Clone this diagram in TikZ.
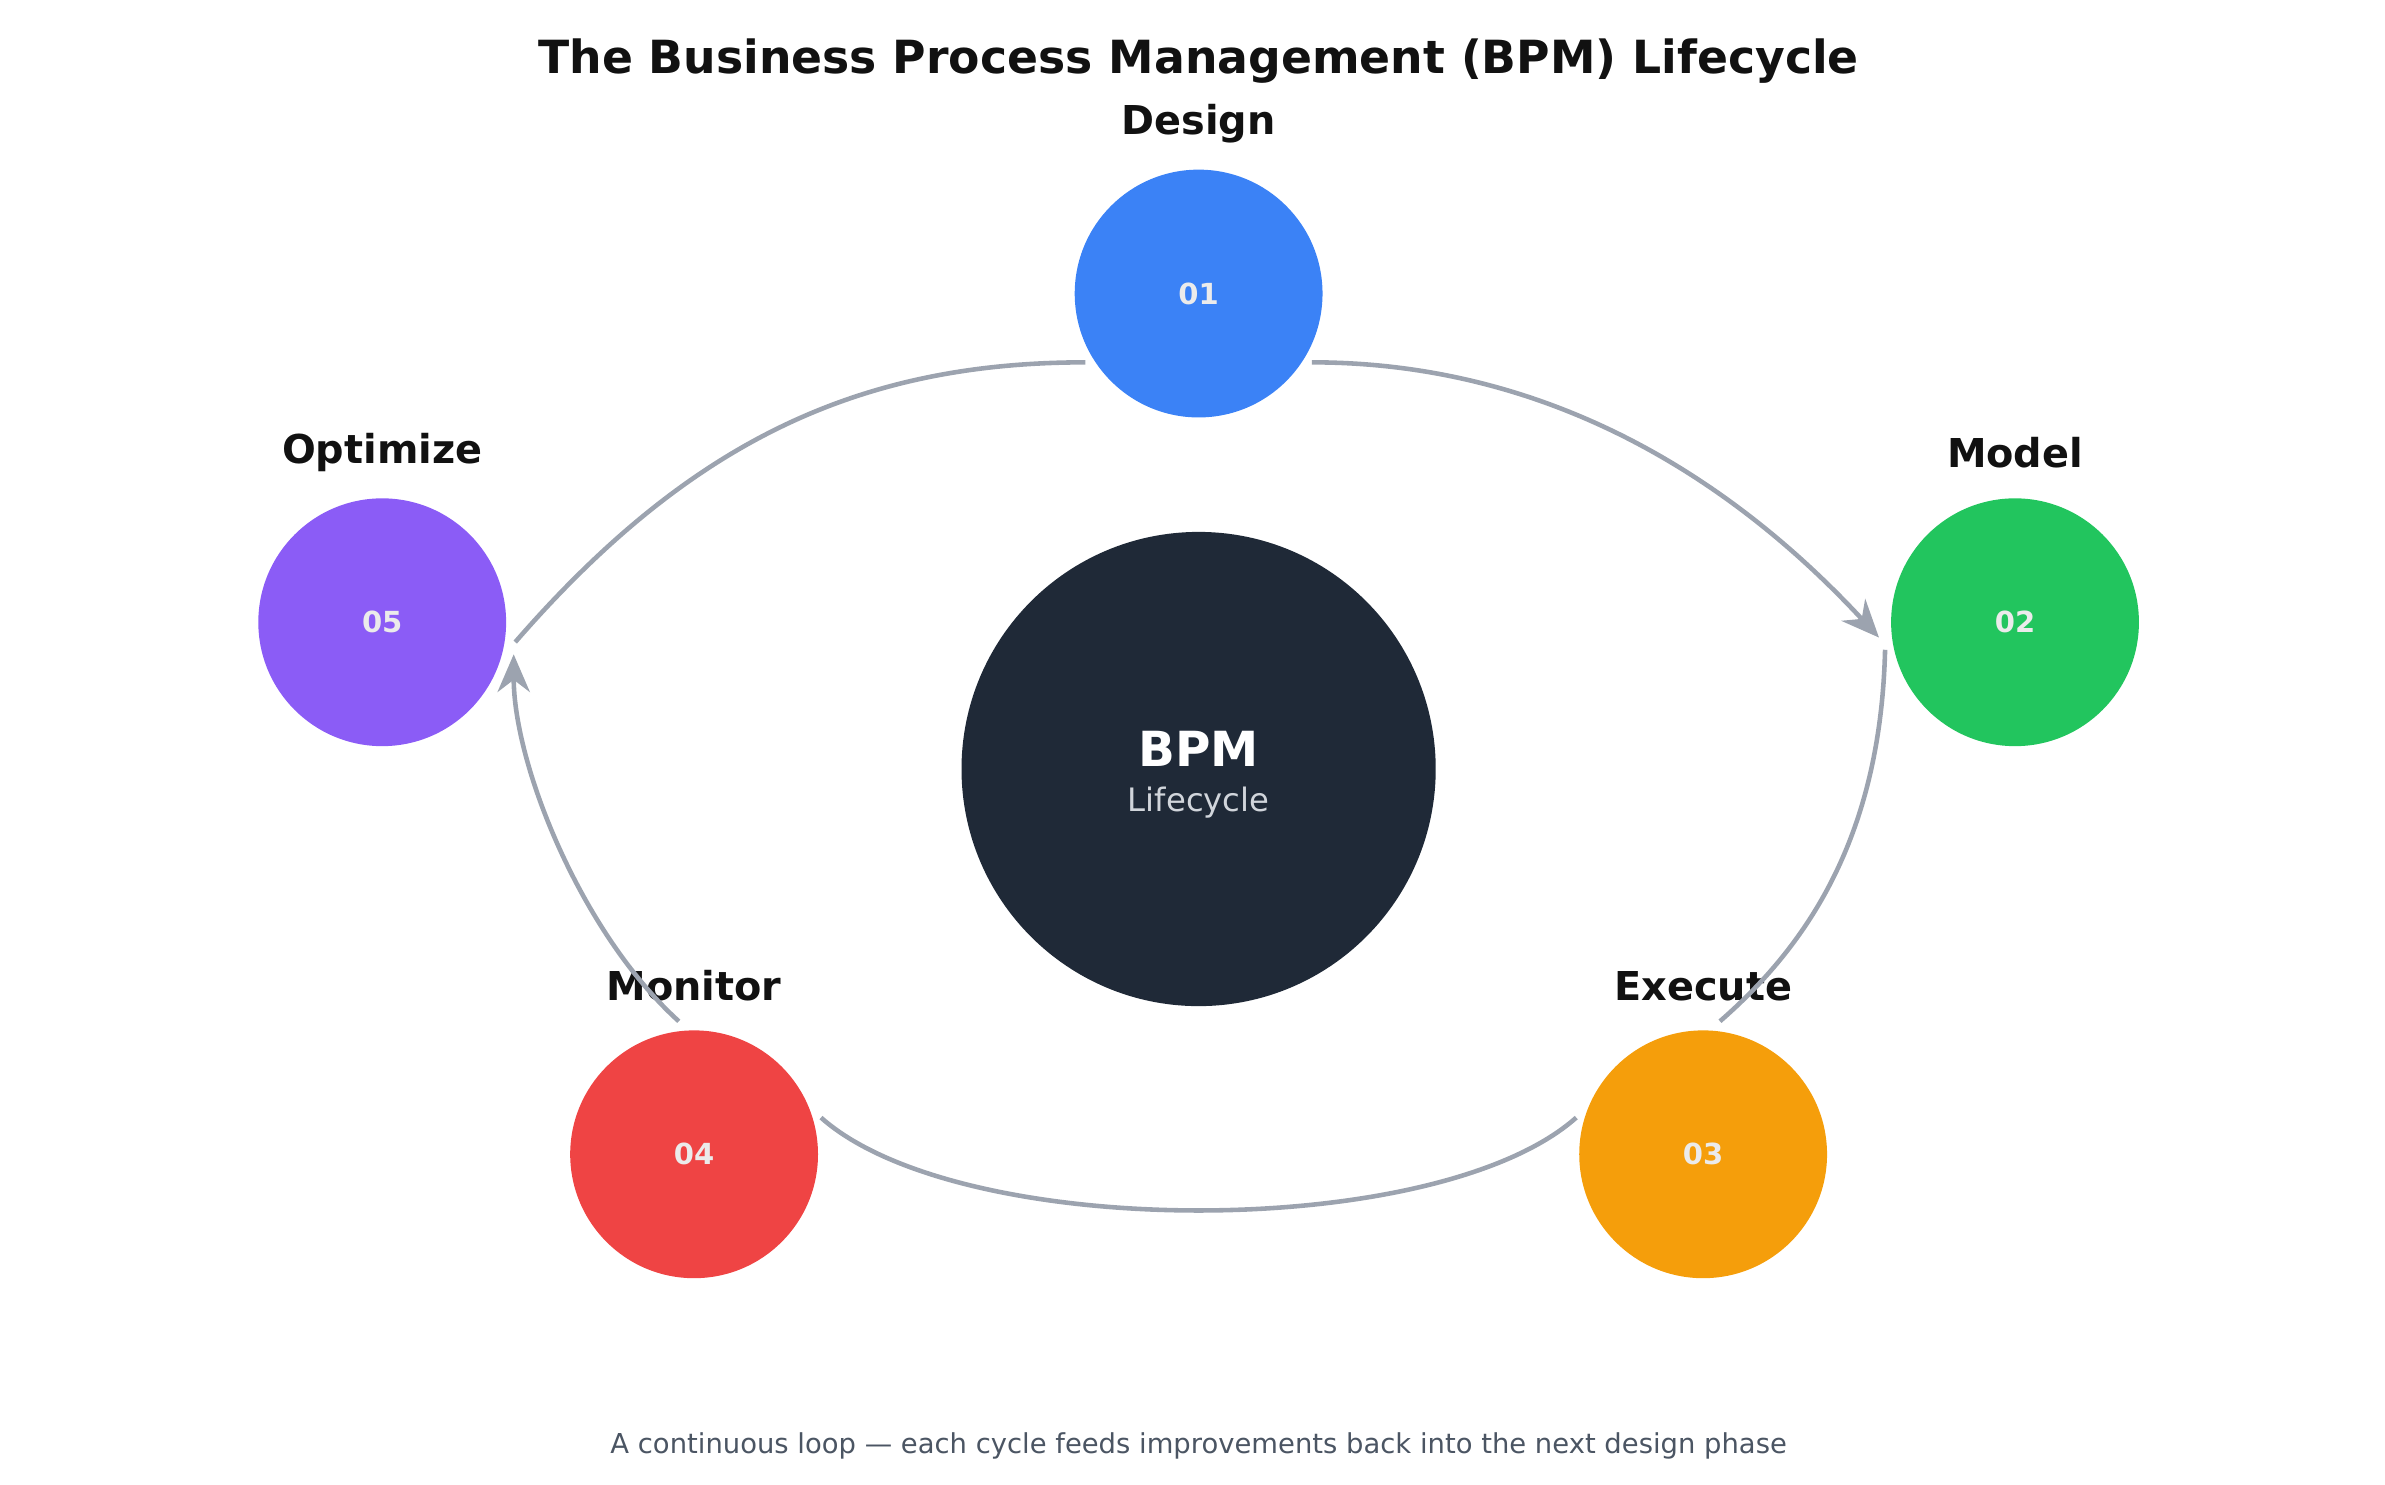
\documentclass[tikz,border=0pt]{standalone}
\usepackage{fontspec}
\setmainfont{DejaVu Sans}
\usetikzlibrary{arrows.meta, positioning}

\definecolor{cblue}{HTML}{3B82F6}
\definecolor{cgreen}{HTML}{22C55E}
\definecolor{corange}{HTML}{F59E0B}
\definecolor{cred}{HTML}{EF4444}
\definecolor{cpurple}{HTML}{8B5CF6}
\definecolor{cdark}{HTML}{1F2937}
\definecolor{carrow}{HTML}{9CA3AF}
\definecolor{cfoot}{HTML}{4B5563}
\definecolor{clight}{HTML}{D1D5DB}
\definecolor{ctext}{HTML}{111111}

\tikzset{
    phase/.style={circle, minimum size=1.62cm, inner sep=0pt, text=white!92!black, font=\fontsize{5.4}{6}\selectfont\bfseries},
    phaselabel/.style={text=ctext, font=\fontsize{7.4}{8}\selectfont\bfseries},
    loop/.style={draw=carrow, line width=0.85pt},
}

\begin{document}
\begin{tikzpicture}[x=0.01cm, y=-0.01cm]
            \useasboundingbox (0,0) rectangle (1560,971.3);

            \node[text=ctext, font=\fontsize{8.5}{10}\selectfont\bfseries] (title) at (784,40) {The Business Process Management (BPM) Lifecycle};

            % centre
            \node[circle, fill=cdark, minimum size=3.1cm, inner sep=0pt] (core) at (784,503) {};
            \node[text=white, font=\fontsize{9}{10}\selectfont\bfseries] (core-t) at (784,490) {BPM};
            \node[text=clight, font=\fontsize{6}{7}\selectfont] (core-s) at (784,525) {Lifecycle};

            % phases
            \node[phase, fill=cblue] (p1) at (784,192) {01};
            \node[phase, fill=cgreen] (p2) at (1318,407) {02};
            \node[phase, fill=corange] (p3) at (1114,755) {03};
            \node[phase, fill=cred] (p4) at (454,755) {04};
            \node[phase, fill=cpurple] (p5) at (250,407) {05};

            \node[phaselabel] (l1) at (784,81) {Design};
            \node[phaselabel] (l2) at (1318,296) {Model};
            \node[phaselabel] (l3) at (1114,645) {Execute};
            \node[phaselabel] (l4) at (454,645) {Monitor};
            \node[phaselabel] (l5) at (250,296) {Optimize};

            % loop ends
            \coordinate (a1) at (858,237);
            \coordinate (b1) at (1229,417);
            \coordinate (a2) at (1233,425);
            \coordinate (b2) at (1125,668);
            \coordinate (a3) at (1031,731);
            \coordinate (b3) at (537,731);
            \coordinate (a4) at (444,668);
            \coordinate (b4) at (336,428);
            \coordinate (a5) at (337,420);
            \coordinate (b5) at (710,237);

            % Connections around the loop
            \draw[loop, -{Stealth[length=7pt, width=6pt]}] (a1) .. controls (1010,237) and (1130,310) .. (b1);
            \draw[loop] (a2) .. controls (1230,550) and (1180,620) .. (b2);
            \draw[loop] (a3) .. controls (940,812) and (628,812) .. (b3);
            \draw[loop, -{Stealth[length=7pt, width=6pt]}] (a4) .. controls (380,610) and (336,500) .. (b4);
            \draw[loop] (a5) .. controls (450,290) and (560,237) .. (b5);

            \node[text=cfoot, font=\fontsize{5.1}{6}\selectfont] (foot) at (784,946) {A continuous loop — each cycle feeds improvements back into the next design phase};
\end{tikzpicture}
\end{document}
